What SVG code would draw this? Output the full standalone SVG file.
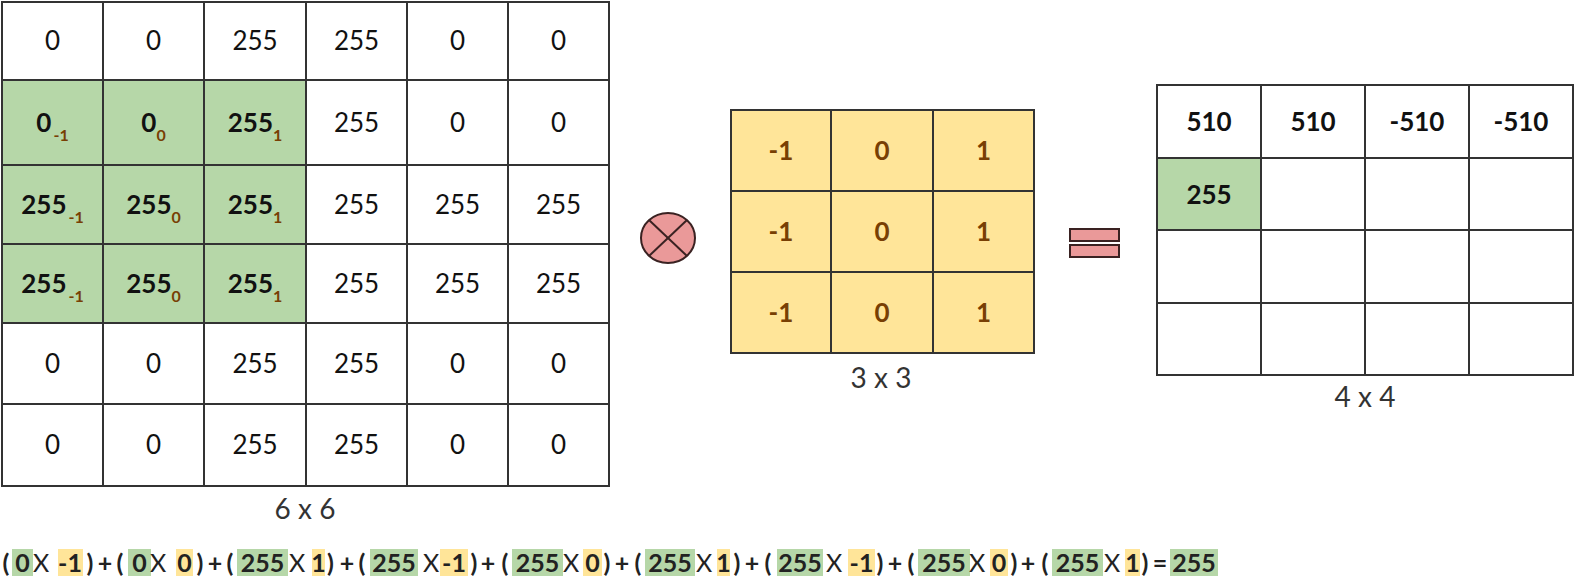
<svg xmlns="http://www.w3.org/2000/svg" width="1574" height="581" viewBox="0 0 1574 581">
<style>
.c{fill:#ffffff;stroke:#333333;stroke-width:2}
.g{fill:#b6d7a8;stroke:#333333;stroke-width:2}
.y{fill:#ffe599;stroke:#333333;stroke-width:2}
.t{font-family:Lato,"Liberation Sans",sans-serif;font-size:26px;fill:#111111;text-anchor:middle}
.b{font-family:Lato,"Liberation Sans",sans-serif;font-size:26px;font-weight:bold;fill:#111111;text-anchor:middle}
.k{font-family:Lato,"Liberation Sans",sans-serif;font-size:26px;font-weight:bold;fill:#783f04;text-anchor:middle}
.s{font-size:16px;font-weight:bold;fill:#783f04}
.lbl{font-family:Lato,"Liberation Sans",sans-serif;font-size:28px;fill:#333333;text-anchor:middle}
.op{fill:#ea9999;stroke:#3a2222;stroke-width:2}
.f{font-family:Lato,"Liberation Sans",sans-serif;font-size:25px;font-weight:bold;fill:#222222;text-anchor:middle}
.fx{font-family:Lato,"Liberation Sans",sans-serif;font-size:25px;fill:#222222;text-anchor:middle}
.hg{fill:#b6d7a8}
.hy{fill:#ffe599}
</style>

<g id="input-6x6">
  <rect class="c" x="2" y="2" width="101" height="78"/><rect class="c" x="103" y="2" width="101" height="78"/><rect class="c" x="204" y="2" width="102" height="78"/><rect class="c" x="306" y="2" width="101" height="78"/><rect class="c" x="407" y="2" width="101" height="78"/><rect class="c" x="508" y="2" width="101" height="78"/>
  <rect class="g" x="2" y="80" width="101" height="85"/><rect class="g" x="103" y="80" width="101" height="85"/><rect class="g" x="204" y="80" width="102" height="85"/><rect class="c" x="306" y="80" width="101" height="85"/><rect class="c" x="407" y="80" width="101" height="85"/><rect class="c" x="508" y="80" width="101" height="85"/>
  <rect class="g" x="2" y="165" width="101" height="79"/><rect class="g" x="103" y="165" width="101" height="79"/><rect class="g" x="204" y="165" width="102" height="79"/><rect class="c" x="306" y="165" width="101" height="79"/><rect class="c" x="407" y="165" width="101" height="79"/><rect class="c" x="508" y="165" width="101" height="79"/>
  <rect class="g" x="2" y="244" width="101" height="79"/><rect class="g" x="103" y="244" width="101" height="79"/><rect class="g" x="204" y="244" width="102" height="79"/><rect class="c" x="306" y="244" width="101" height="79"/><rect class="c" x="407" y="244" width="101" height="79"/><rect class="c" x="508" y="244" width="101" height="79"/>
  <rect class="c" x="2" y="323" width="101" height="81"/><rect class="c" x="103" y="323" width="101" height="81"/><rect class="c" x="204" y="323" width="102" height="81"/><rect class="c" x="306" y="323" width="101" height="81"/><rect class="c" x="407" y="323" width="101" height="81"/><rect class="c" x="508" y="323" width="101" height="81"/>
  <rect class="c" x="2" y="404" width="101" height="82"/><rect class="c" x="103" y="404" width="101" height="82"/><rect class="c" x="204" y="404" width="102" height="82"/><rect class="c" x="306" y="404" width="101" height="82"/><rect class="c" x="407" y="404" width="101" height="82"/><rect class="c" x="508" y="404" width="101" height="82"/>

  <text class="t" x="52.5" y="50">0</text><text class="t" x="153.5" y="50">0</text><text class="t" x="255" y="50">255</text><text class="t" x="356.5" y="50">255</text><text class="t" x="457.5" y="50">0</text><text class="t" x="558.5" y="50">0</text>

  <text class="b" x="52.5" y="132">0<tspan class="s" dx="2" dy="9">-1</tspan></text>
  <text class="b" x="153.5" y="132">0<tspan class="s" dy="9">0</tspan></text>
  <text class="b" x="255" y="132">255<tspan class="s" dy="9">1</tspan></text>
  <text class="t" x="356.5" y="132">255</text><text class="t" x="457.5" y="132">0</text><text class="t" x="558.5" y="132">0</text>

  <text class="b" x="52.5" y="214">255<tspan class="s" dx="2" dy="9">-1</tspan></text>
  <text class="b" x="153.5" y="214">255<tspan class="s" dy="9">0</tspan></text>
  <text class="b" x="255" y="214">255<tspan class="s" dy="9">1</tspan></text>
  <text class="t" x="356.5" y="214">255</text><text class="t" x="457.5" y="214">255</text><text class="t" x="558.5" y="214">255</text>

  <text class="b" x="52.5" y="293">255<tspan class="s" dx="2" dy="9">-1</tspan></text>
  <text class="b" x="153.5" y="293">255<tspan class="s" dy="9">0</tspan></text>
  <text class="b" x="255" y="293">255<tspan class="s" dy="9">1</tspan></text>
  <text class="t" x="356.5" y="293">255</text><text class="t" x="457.5" y="293">255</text><text class="t" x="558.5" y="293">255</text>

  <text class="t" x="52.5" y="373">0</text><text class="t" x="153.5" y="373">0</text><text class="t" x="255" y="373">255</text><text class="t" x="356.5" y="373">255</text><text class="t" x="457.5" y="373">0</text><text class="t" x="558.5" y="373">0</text>

  <text class="t" x="52.5" y="454">0</text><text class="t" x="153.5" y="454">0</text><text class="t" x="255" y="454">255</text><text class="t" x="356.5" y="454">255</text><text class="t" x="457.5" y="454">0</text><text class="t" x="558.5" y="454">0</text>

  <text class="lbl" x="305" y="519">6 x 6</text>
</g>

<g id="convolve-operator">
  <ellipse class="op" cx="668" cy="238" rx="27" ry="25"/>
  <line x1="649" y1="220" x2="687" y2="256" stroke="#3a2222" stroke-width="2"/>
  <line x1="687" y1="220" x2="649" y2="256" stroke="#3a2222" stroke-width="2"/>
</g>

<g id="kernel-3x3">
  <rect class="y" x="731" y="110" width="100" height="81"/><rect class="y" x="831" y="110" width="102" height="81"/><rect class="y" x="933" y="110" width="101" height="81"/>
  <rect class="y" x="731" y="191" width="100" height="81"/><rect class="y" x="831" y="191" width="102" height="81"/><rect class="y" x="933" y="191" width="101" height="81"/>
  <rect class="y" x="731" y="272" width="100" height="81"/><rect class="y" x="831" y="272" width="102" height="81"/><rect class="y" x="933" y="272" width="101" height="81"/>
  <text class="k" x="781" y="160">-1</text><text class="k" x="882" y="160">0</text><text class="k" x="983.5" y="160">1</text>
  <text class="k" x="781" y="241">-1</text><text class="k" x="882" y="241">0</text><text class="k" x="983.5" y="241">1</text>
  <text class="k" x="781" y="322">-1</text><text class="k" x="882" y="322">0</text><text class="k" x="983.5" y="322">1</text>
  <text class="lbl" x="881" y="388">3 x 3</text>
</g>

<g id="equals-operator">
  <rect class="op" x="1070" y="229" width="49" height="12"/>
  <rect class="op" x="1070" y="245" width="49" height="12"/>
</g>

<g id="output-4x4">
  <rect class="c" x="1157" y="85" width="104" height="73"/><rect class="c" x="1261" y="85" width="104" height="73"/><rect class="c" x="1365" y="85" width="104" height="73"/><rect class="c" x="1469" y="85" width="104" height="73"/>
  <rect class="g" x="1157" y="158" width="104" height="72"/><rect class="c" x="1261" y="158" width="104" height="72"/><rect class="c" x="1365" y="158" width="104" height="72"/><rect class="c" x="1469" y="158" width="104" height="72"/>
  <rect class="c" x="1157" y="230" width="104" height="73"/><rect class="c" x="1261" y="230" width="104" height="73"/><rect class="c" x="1365" y="230" width="104" height="73"/><rect class="c" x="1469" y="230" width="104" height="73"/>
  <rect class="c" x="1157" y="303" width="104" height="72"/><rect class="c" x="1261" y="303" width="104" height="72"/><rect class="c" x="1365" y="303" width="104" height="72"/><rect class="c" x="1469" y="303" width="104" height="72"/>
  <text class="b" x="1209" y="131">510</text><text class="b" x="1313" y="131">510</text><text class="b" x="1417" y="131">-510</text><text class="b" x="1521" y="131">-510</text>
  <text class="b" x="1209" y="204">255</text>
  <text class="lbl" x="1365" y="407">4 x 4</text>
</g>

<g id="formula">
  <rect class="hg" x="12" y="549" width="21" height="27"/><rect class="hy" x="58" y="549" width="25" height="27"/>
  <rect class="hg" x="128" y="549" width="23" height="27"/><rect class="hy" x="176" y="549" width="17" height="27"/>
  <rect class="hg" x="237" y="549" width="51" height="27"/><rect class="hy" x="312" y="549" width="13" height="27"/>
  <rect class="hg" x="370" y="549" width="48" height="27"/><rect class="hy" x="440" y="549" width="28" height="27"/>
  <rect class="hg" x="512" y="549" width="51" height="27"/><rect class="hy" x="583" y="549" width="19" height="27"/>
  <rect class="hg" x="645" y="549" width="50" height="27"/><rect class="hy" x="717" y="549" width="13" height="27"/>
  <rect class="hg" x="777" y="549" width="46" height="27"/><rect class="hy" x="848" y="549" width="27" height="27"/>
  <rect class="hg" x="918" y="549" width="52" height="27"/><rect class="hy" x="990" y="549" width="18" height="27"/>
  <rect class="hg" x="1052" y="549" width="51" height="27"/><rect class="hy" x="1125" y="549" width="15" height="27"/>
  <rect class="hg" x="1170" y="549" width="48" height="27"/>

  <text class="f" x="6" y="572">(</text><text class="f" x="22.5" y="572">0</text><text class="fx" x="41" y="572">X</text><text class="f" x="70" y="572">-1</text><text class="f" x="90" y="572">)</text><text class="f" x="105" y="572">+</text>
  <text class="f" x="120" y="572">(</text><text class="f" x="139.5" y="572">0</text><text class="fx" x="158" y="572">X</text><text class="f" x="184.5" y="572">0</text><text class="f" x="200" y="572">)</text><text class="f" x="215" y="572">+</text>
  <text class="f" x="230" y="572">(</text><text class="f" x="262.5" y="572">255</text><text class="fx" x="297" y="572">X</text><text class="f" x="318.5" y="572">1</text><text class="f" x="330.5" y="572">)</text><text class="f" x="347" y="572">+</text>
  <text class="f" x="362" y="572">(</text><text class="f" x="394" y="572">255</text><text class="fx" x="431" y="572">X</text><text class="f" x="454" y="572">-1</text><text class="f" x="474" y="572">)</text><text class="f" x="488" y="572">+</text>
  <text class="f" x="505" y="572">(</text><text class="f" x="537.5" y="572">255</text><text class="fx" x="571" y="572">X</text><text class="f" x="592.5" y="572">0</text><text class="f" x="607" y="572">)</text><text class="f" x="622" y="572">+</text>
  <text class="f" x="638" y="572">(</text><text class="f" x="670" y="572">255</text><text class="fx" x="704" y="572">X</text><text class="f" x="723.5" y="572">1</text><text class="f" x="737" y="572">)</text><text class="f" x="752" y="572">+</text>
  <text class="f" x="768" y="572">(</text><text class="f" x="800" y="572">255</text><text class="fx" x="834" y="572">X</text><text class="f" x="861.5" y="572">-1</text><text class="f" x="880" y="572">)</text><text class="f" x="895" y="572">+</text>
  <text class="f" x="911" y="572">(</text><text class="f" x="944" y="572">255</text><text class="fx" x="977" y="572">X</text><text class="f" x="999" y="572">0</text><text class="f" x="1014" y="572">)</text><text class="f" x="1028" y="572">+</text>
  <text class="f" x="1045" y="572">(</text><text class="f" x="1077.5" y="572">255</text><text class="fx" x="1112" y="572">X</text><text class="f" x="1132.5" y="572">1</text><text class="f" x="1145" y="572">)</text><text class="f" x="1160" y="572">=</text><text class="f" x="1194" y="572">255</text>
</g>
</svg>
